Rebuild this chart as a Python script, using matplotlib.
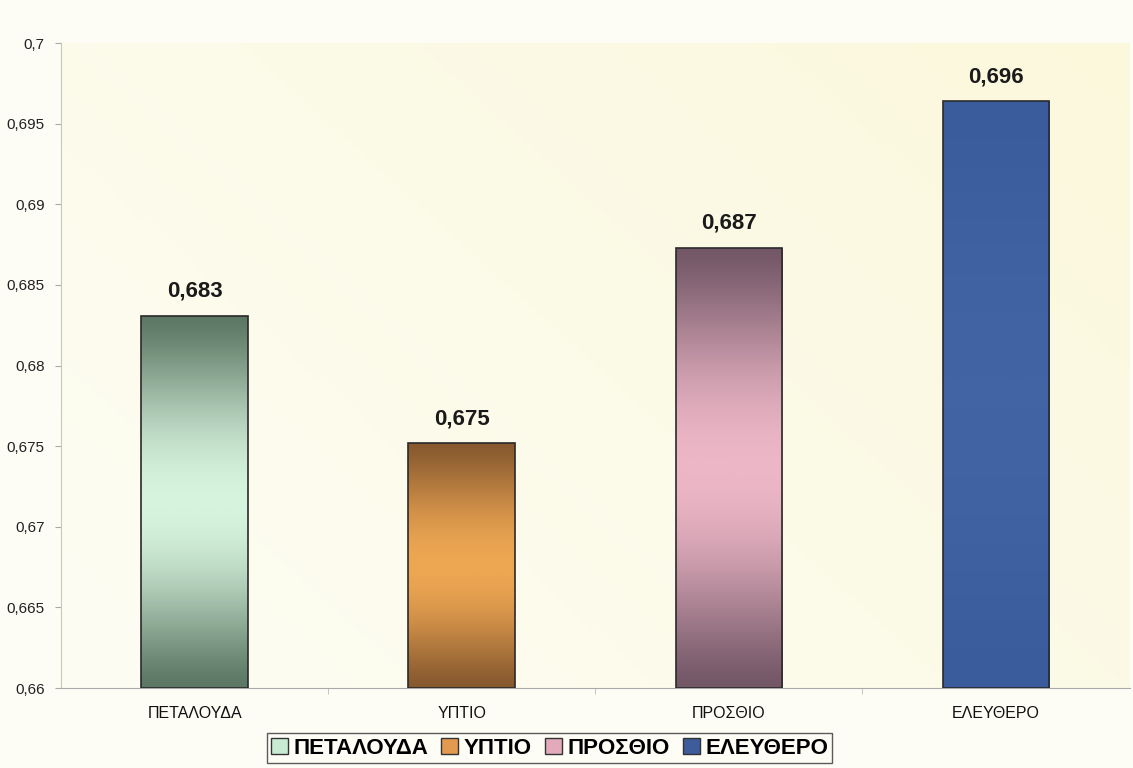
import numpy as np
import matplotlib
matplotlib.use("Agg")
import matplotlib.pyplot as plt
from matplotlib.colors import LinearSegmentedColormap
from matplotlib.patches import Patch

categories = ["ΠΕΤΑΛΟΥΔΑ", "ΥΠΤΙΟ", "ΠΡΟΣΘΙΟ", "ΕΛΕΥΘΕΡΟ"]
values = [0.6831, 0.6752, 0.6873, 0.6964]
label_values = [0.683, 0.675, 0.687, 0.696]
yticks = [0.66, 0.665, 0.67, 0.675, 0.68, 0.685, 0.69, 0.695, 0.70]

# gradient (edge colour, centre colour) for each bar
grad_colors = [("#5c7763", "#d6f3de"),
               ("#87592f", "#eda652"),
               ("#735767", "#ecb6c6"),
               ("#3b5c9c", "#4263a4")]
legend_colors = ["#c9ead2", "#e39a50", "#e2aabb", "#3e5c9c"]

plt.rcParams['font.family'] = ['Liberation Sans', 'DejaVu Sans']

fig = plt.figure(figsize=(11.33, 7.68), dpi=100, facecolor="#fdfdf6")
ax = fig.add_axes([0.054, 0.104, 0.943, 0.840])
ax.set_facecolor("none")

ymin, ymax = 0.66, 0.70
ax.set_xlim(-0.5, len(categories) - 0.5)
ax.set_ylim(ymin, ymax)

# plot-area background gradient
bg = np.linspace(0, 1, 256).reshape(1, -1)
bg2 = np.linspace(0, 1, 256).reshape(-1, 1)
bgmix = np.clip(0.6 * bg + 0.4 * bg2, 0, 1)
bg_cmap = LinearSegmentedColormap.from_list("bg", ["#fdfdf4", "#fbf8dc"])
ax.imshow(bgmix, extent=[-0.5, len(categories) - 0.5, ymin, ymax], origin="lower",
          aspect="auto", cmap=bg_cmap, zorder=0)

x = np.arange(len(categories))
width = 0.4
bars = ax.bar(x, np.array(values) - ymin, bottom=ymin, width=width,
              color="none", edgecolor="#2a2a2a", linewidth=1.2, zorder=3)

prof = np.linspace(0, 1, 256)
# dark at ends, light in middle (smooth)
shape = np.sin(np.pi * prof) ** 1.3
shape = shape.reshape(-1, 1)
for b, (c_edge, c_mid) in zip(bars, grad_colors):
    cm = LinearSegmentedColormap.from_list("g", [c_edge, c_mid])
    x0 = b.get_x()
    w = b.get_width()
    y0 = b.get_y()
    h = b.get_height()
    im = ax.imshow(shape, extent=[x0, x0 + w, y0, y0 + h], origin="lower",
                   aspect="auto", cmap=cm, vmin=0, vmax=1, zorder=2)
    im.set_clip_path(b)

for xi, v, lv in zip(x, values, label_values):
    ax.annotate(f"{lv:.3f}".replace(".", ","), (xi, v), xytext=(0, 10),
                textcoords="offset points", ha="center", va="bottom",
                fontsize=16, fontweight="bold", color="#1a1a1a")

ax.set_yticks(yticks)
ax.set_yticklabels([f"{t:g}".replace(".", ",") for t in yticks], fontsize=11, color="#222222")
ax.set_xticks(x)
ax.set_xticklabels(categories, fontsize=11.5, color="#111111")
ax.tick_params(axis="x", length=0, pad=13)
ax.set_xticks(x[:-1] + 0.5, minor=True)
ax.tick_params(axis="x", which="minor", length=4, color="#bbbbbb")
ax.tick_params(axis="y", length=4, color="#aaaaaa", pad=8)

for s in ["top", "right"]:
    ax.spines[s].set_visible(False)
ax.spines["left"].set_color("#c8c8b8")
ax.spines["bottom"].set_color("#aaaaaa")

handles = [Patch(facecolor=c, edgecolor="#333333", linewidth=1) for c in legend_colors]
leg = fig.legend(handles, categories, loc="center", bbox_to_anchor=(0.485, 0.026),
                 ncol=4, frameon=True, fancybox=False, handlelength=0.75,
                 handleheight=0.75, handletextpad=0.25, columnspacing=0.6,
                 borderpad=0.2, prop={"weight": "bold", "size": 16})
leg.get_frame().set_edgecolor("#333333")
leg.get_frame().set_facecolor("#fdfdf6")
leg.get_frame().set_linewidth(1.0)

fig.savefig("out.png", dpi=100, facecolor=fig.get_facecolor())
